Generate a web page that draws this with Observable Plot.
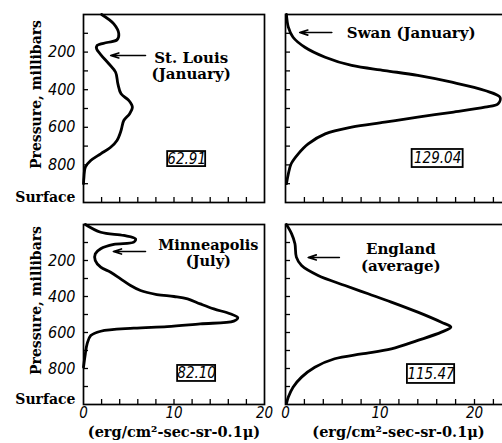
<!DOCTYPE html>
<html><head><meta charset="utf-8">
<script src="https://cdn.jsdelivr.net/npm/d3@7"></script>
<script src="https://cdn.jsdelivr.net/npm/@observablehq/plot@0.6"></script>
<style>
body{margin:0;background:#fff;overflow:hidden}
#c{position:relative;width:502px;height:443px;overflow:hidden;background:#fff}
#c svg{position:absolute;overflow:visible;background:transparent}
</style>
</head><body><div id="c"></div>
<script>
// ---- data ----
const stLouisP = [0, 50, 103, 135, 149, 165, 183, 213, 262, 307, 369, 422, 457, 493, 528, 564, 617, 670, 706, 741, 777, 812, 865, 900];
const stLouisV = [2.0, 3.35, 3.9, 3.7, 2.6, 1.5, 1.45, 1.9, 2.8, 3.55, 3.8, 4.15, 5.0, 5.4, 5.1, 4.45, 4.15, 3.7, 3.0, 1.9, 0.8, 0.2, 0.05, 0];

const swanP = [0, 67, 121, 174, 227, 271, 298, 324, 360, 404, 440, 475, 493, 520, 546, 573, 599, 635, 688, 741, 794, 848, 900];
const swanV = [0.1, 0.3, 0.8, 2.05, 4.2, 7.0, 10.5, 14.0, 17.6, 21.1, 22.7, 22.5, 21.1, 17.6, 14.0, 10.5, 7.0, 4.2, 2.4, 1.35, 0.6, 0.3, 0.1];

const minnP = [0, 43, 61, 80, 98, 111, 135, 163, 200, 237, 265, 302, 339, 367, 389, 400, 413, 441, 469, 496, 518, 537, 552, 567, 576, 593, 617, 663, 719, 793];
const minnV = [0.2, 1.9, 4.45, 5.75, 5.55, 3.35, 1.9, 1.3, 1.3, 1.9, 3.0, 4.1, 5.2, 6.3, 8.1, 10.0, 11.5, 12.9, 14.4, 16.2, 17.05, 16.6, 12.9, 9.25, 5.55, 1.9, 0.8, 0.4, 0.2, 0];

const englandP = [0, 52, 107, 181, 228, 283, 339, 385, 431, 487, 543, 570, 598, 644, 691, 719, 746, 793, 848, 904, 959, 995];
const englandV = [0.1, 0.65, 1.0, 1.15, 1.7, 3.45, 6.3, 8.75, 11.2, 14.0, 16.5, 17.5, 16.5, 14.0, 11.2, 8.05, 5.2, 3.1, 1.7, 0.8, 0.3, 0.1];

const stationNames = ["St. Louis\n(January)", "Swan (January)", "Minneapolis\n(July)", "England\n(average)"];
const totals = ["62.91", "129.04", "82.10", "115.47"];

const yMinorTicks = [100, 200, 300, 400, 500, 600, 700, 800, 900];
const yTickLabels = [200, 400, 600, 800];
const surfaceTick = [1000];
const xMinorTicksLeft = [2, 4, 6, 8, 10, 12, 14, 16, 18];
const xMinorTicksRight = [2, 4, 6, 8, 10, 12, 14, 16, 18, 20, 22];
const xTickLabels = [0, 10, 20];
const unitLabel = "(erg/cm\u00B2-sec-sr-0.1\u03BC)";
const yTitle = "Pressure, millibars";

// ---- layout / annotation placement ----
const SERIF = "DejaVu Serif, serif";
const DIGITS = "Liberation Sans Narrow, DejaVu Sans Condensed, Liberation Sans, sans-serif";

const panels = [
  {P: stLouisP, V: stLouisV, left: 0, top: 0, ml: 83, fw: 181, mr: 6, mt: 14, fh: 188, mb: 8, xd: [0, 20],
   yLabels: true, xLabels: false, xt: xMinorTicksLeft, fs: 15, lh: 1.1,
   name: {t: stationNames[0], x: 11.9, y: 272},
   arrow: {x1: 6.85, x2: 3.0, y: 218},
   box: {t: totals[0], x1: 9.3, x2: 13.5, y1: 729, y2: 809}},
  {P: swanP, V: swanV, left: 270, top: 0, ml: 15, fw: 220, mr: 2, mt: 14, fh: 188, mb: 8, xd: [0, 23.28],
   yLabels: false, xLabels: false, xt: xMinorTicksRight, fs: 15, lh: 1.1,
   name: {t: stationNames[1], x: 13.3, y: 96},
   arrow: {x1: 4.9, x2: 1.5, y: 96},
   box: {t: totals[1], x1: 13.4, x2: 18.8, y1: 718, y2: 814}},
  {P: minnP, V: minnV, left: 0, top: 210, ml: 83, fw: 181, mr: 6, mt: 14, fh: 180, mb: 39, xd: [0, 20],
   yLabels: true, xLabels: true, xt: xMinorTicksLeft, fs: 14.5, lh: 1.12,
   name: {t: stationNames[2], x: 13.8, y: 158},
   arrow: {x1: 6.85, x2: 3.3, y: 150},
   box: {t: totals[2], x1: 10.4, x2: 14.6, y1: 783, y2: 872}},
  {P: englandP, V: englandV, left: 270, top: 210, ml: 15, fw: 220, mr: 2, mt: 14, fh: 180, mb: 39, xd: [0, 23.28],
   yLabels: false, xLabels: true, xt: xMinorTicksRight, fs: 15, lh: 1.15,
   name: {t: stationNames[3], x: 12.2, y: 180},
   arrow: {x1: 5.7, x2: 2.4, y: 183},
   box: {t: totals[3], x1: 12.9, x2: 17.9, y1: 778, y2: 883}}
];

const container = document.getElementById("c");
for (const p of panels) {
  const rows = p.P.map((pr, i) => ({p: pr, v: p.V[i]}));
  const marks = [
    Plot.frame({stroke: "#000", strokeWidth: 1.7}),
    Plot.axisY({ticks: yMinorTicks, tickSize: -5, tickFormat: () => "", strokeWidth: 1.3, label: null}),
    Plot.axisX({ticks: p.xt, tickSize: -5, tickFormat: () => "", strokeWidth: 1.3, label: null}),
    Plot.line(rows, {x: "v", y: "p", curve: "catmull-rom", stroke: "#000", strokeWidth: 2.8}),
    Plot.arrow([p.arrow], {x1: "x1", x2: "x2", y1: "y", y2: "y", stroke: "#000", strokeWidth: 1.6, headLength: 8, headAngle: 35}),
    Plot.text([p.name], {x: "x", y: "y", text: "t", fontFamily: SERIF, fontWeight: "bold", fontSize: p.fs, lineHeight: p.lh, fill: "#000"}),
    Plot.rect([p.box], {x1: "x1", x2: "x2", y1: "y1", y2: "y2", fill: "#fff", stroke: "#000", strokeWidth: 1.8}),
    Plot.text([p.box], {x: d => (d.x1 + d.x2) / 2, y: d => (d.y1 + d.y2) / 2, text: "t", fontFamily: DIGITS, fontStyle: "italic", fontSize: 15, fill: "#000"})
  ];
  if (p.yLabels) {
    marks.push(
      Plot.axisY({ticks: yTickLabels, tickSize: 0, tickPadding: 8, fontFamily: DIGITS, fontStyle: "italic", fontSize: 16, label: null}),
      Plot.axisY({ticks: surfaceTick, tickSize: 0, tickPadding: 8, tickFormat: () => "Surface", fontFamily: SERIF, fontWeight: "bold", fontSize: 14, dy: -5, label: null}),
      Plot.text([yTitle], {frameAnchor: "left", textAnchor: "middle", rotate: -90, dx: -47, dy: -14, fontFamily: SERIF, fontWeight: "bold", fontSize: 14, fill: "#000"})
    );
  }
  if (p.xLabels) {
    marks.push(
      Plot.axisX({ticks: xTickLabels, tickSize: 0, tickPadding: 3, fontFamily: DIGITS, fontStyle: "italic", fontSize: 15, label: null}),
      Plot.text([unitLabel], {frameAnchor: "bottom", dy: 32, dx: p.yLabels ? 0 : 3, fontFamily: SERIF, fontWeight: "bold", fontSize: 14.5, fill: "#000"})
    );
  }
  const chart = Plot.plot({
    width: p.ml + p.fw + p.mr,
    height: p.mt + p.fh + p.mb,
    marginLeft: p.ml, marginRight: p.mr, marginTop: p.mt, marginBottom: p.mb,
    x: {domain: p.xd, axis: null},
    y: {domain: [0, 1000], reverse: true, axis: null},
    style: {background: "transparent", color: "#000"},
    marks
  });
  chart.style.left = p.left + "px";
  chart.style.top = p.top + "px";
  container.appendChild(chart);
}
</script>
</body></html>
